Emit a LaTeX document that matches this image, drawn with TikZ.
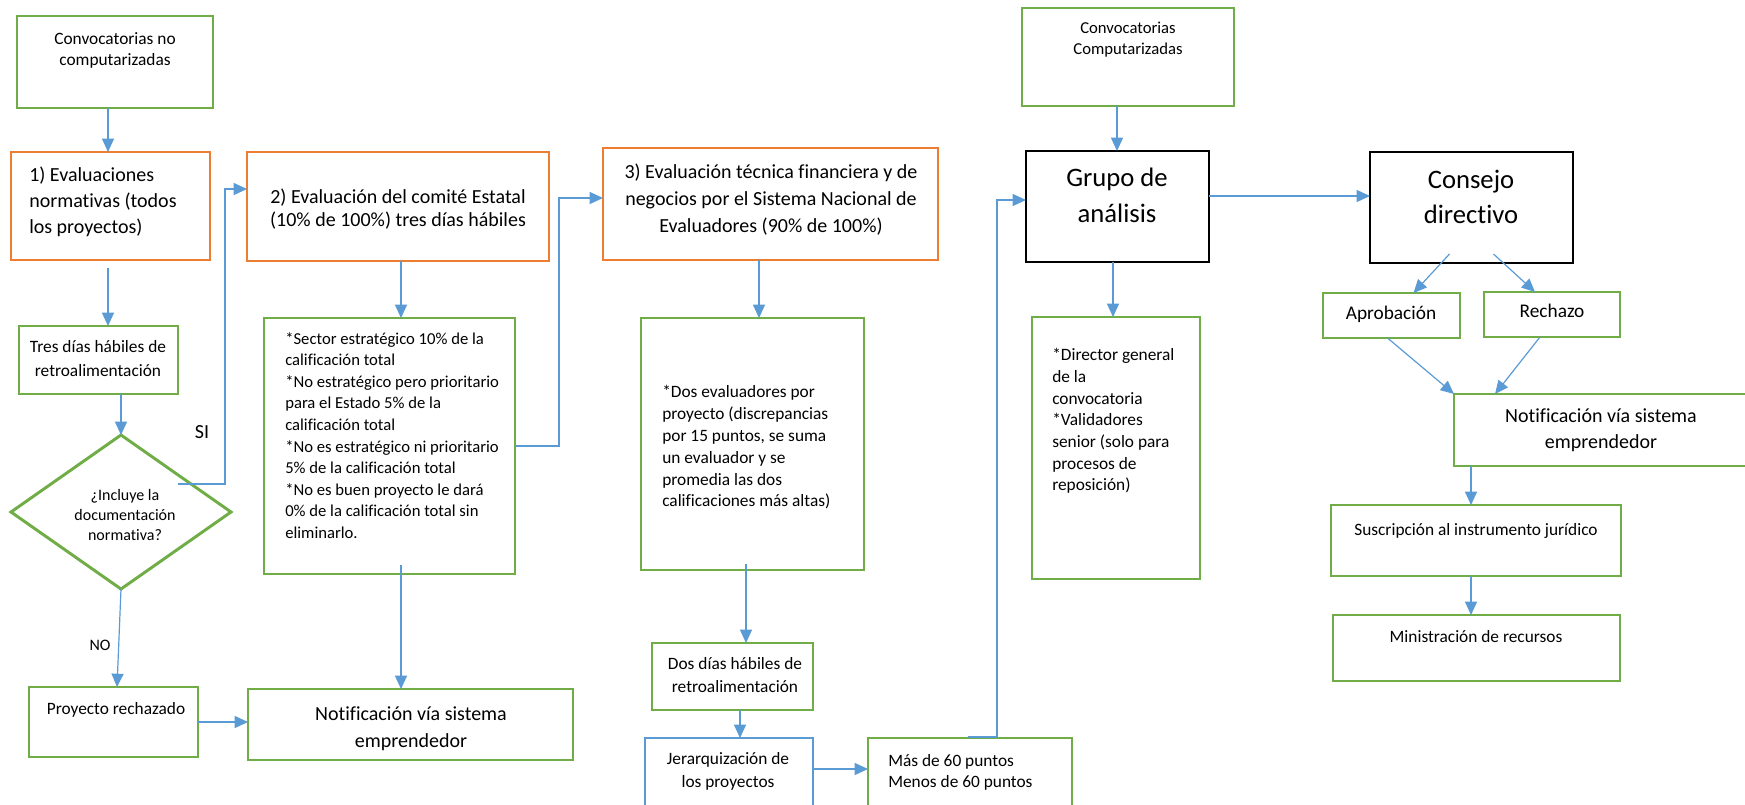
\documentclass[tikz,border=0pt]{standalone}
\usepackage{fontspec}
\setmainfont{Carlito}[Ligatures=CommonOff]
\usetikzlibrary{arrows.meta,calc,shapes.geometric}
\definecolor{gr}{HTML}{70AD47}
\definecolor{og}{HTML}{ED7D31}
\definecolor{bl}{HTML}{5B9BD5}
\newcommand\mkbox[6]{\node[#2,anchor=north west,minimum width={((#5)-(#3))*0.75pt},minimum height={((#6)-(#4))*0.75pt}] (#1) at (#3,#4) {};}
\begin{document}
\begin{tikzpicture}[x=0.75pt,y=-0.75pt,
  bx/.style={line width=2.2pt,inner sep=0pt,outer sep=0pt},
  gbox/.style={bx,draw=gr},
  obox/.style={bx,draw=og},
  kbox/.style={bx,draw=black},
  bbox/.style={bx,draw=bl},
  conn/.style={draw=bl,line width=0.9pt},
  arr/.style={conn,-{Triangle[length=10pt,width=9pt]}},
  txt/.style 2 args={font=\fontsize{#1}{#2}\selectfont,inner sep=0pt,text=black},
]
\useasboundingbox (0,0) rectangle (1745,804);
% boxes
\mkbox{convno}{gbox}{17}{16}{213}{108}
\mkbox{box1}{obox}{11}{152}{210}{260}
\mkbox{tres}{gbox}{19}{326}{178}{394}
\node[draw=gr,line width=2.2pt,diamond,minimum width=165pt,minimum height=115.5pt,inner sep=0pt,outer sep=0pt] (dia) at (121,512) {};
\mkbox{proj}{gbox}{29}{687}{198}{757}
\mkbox{notif1}{gbox}{248}{689}{573}{760}
\mkbox{box2}{obox}{247}{152}{549}{261}
\mkbox{sector}{gbox}{264}{318}{515}{574}
\mkbox{box3}{obox}{603}{148}{938}{260}
\mkbox{dos}{gbox}{641}{318}{864}{570}
\mkbox{dosdias}{gbox}{652}{643}{813}{710}
\mkbox{jer}{bbox}{645}{738}{813}{808}
\mkbox{mas}{gbox}{868}{738}{1072}{808}
\mkbox{convcomp}{gbox}{1022}{8}{1234}{106}
\mkbox{grupo}{kbox}{1026}{151}{1209}{262}
\mkbox{director}{gbox}{1032}{317}{1200}{579}
\mkbox{consejo}{kbox}{1370}{152}{1573}{263}
\mkbox{aprob}{gbox}{1323}{293}{1460}{338}
\mkbox{rech}{gbox}{1484}{292}{1620}{337}
\mkbox{notif2}{gbox}{1454}{394}{1760}{466}
\mkbox{susc}{gbox}{1331}{505}{1621}{576}
\mkbox{min}{gbox}{1333}{615}{1620}{681}
% texts
\node[txt={13}{15.75},anchor=north,align=center] (convno-t) at (115,32) {Convocatorias no\\computarizadas};
\node[txt={15}{19.5},anchor=north west,align=left] (box1-t) at (29,167) {1) Evaluaciones\\normativas (todos\\los proyectos)};
\node[txt={13}{18},anchor=north,align=center] (tres-t) at (98,340) {Tres días hábiles de\\retroalimentación};
\node[txt={12}{15},anchor=north,align=center] (dia-t) at (125,489) {¿Incluye la\\documentación\\normativa?};
\node[txt={13}{16},anchor=north,align=center] (proj-t) at (116,702) {Proyecto rechazado};
\node[txt={15}{20.5},anchor=north,align=center] (notif1-t) at (411,706) {Notificación vía sistema\\emprendedor};
\node[txt={15}{17.25},anchor=north,align=center] (box2-t) at (398,189) {2) Evaluación del comité Estatal\\(10\% de 100\%) tres días hábiles};
\node[txt={12.5}{16.2},anchor=north west,align=left] (sector-t) at (285,332) {*Sector estratégico 10\% de la\\calificación total\\*No estratégico pero prioritario\\para el Estado 5\% de la\\calificación total\\*No es estratégico ni prioritario\\5\% de la calificación total\\*No es buen proyecto le dará\\0\% de la calificación total sin\\eliminarlo.};
\node[txt={15}{20},anchor=north,align=center] (box3-t) at (771,164) {3) Evaluación técnica financiera y de\\negocios por el Sistema Nacional de\\Evaluadores (90\% de 100\%)};
\node[txt={13}{16.4},anchor=north west,align=left] (dos-t) at (662,385) {*Dos evaluadores por\\proyecto (discrepancias\\por 15 puntos, se suma\\un evaluador y se\\promedia las dos\\calificaciones más altas)};
\node[txt={13}{17.5},anchor=north,align=center] (dosdias-t) at (735,657) {Dos días hábiles de\\retroalimentación};
\node[txt={13}{17.5},anchor=north,align=center] (jer-t) at (728,752) {Jerarquización de\\los proyectos};
\node[txt={13}{15.75},anchor=north west,align=left] (mas-t) at (888,754) {Más de 60 puntos\\Menos de 60 puntos};
\node[txt={12.5}{15.75},anchor=north,align=center] (convcomp-t) at (1128,22) {Convocatorias\\Computarizadas};
\node[txt={20}{26.5},anchor=north,align=center] (grupo-t) at (1117,168) {Grupo de\\análisis};
\node[txt={13}{16.3},anchor=north west,align=left] (director-t) at (1052,348) {*Director general\\de la\\convocatoria\\*Validadores\\senior (solo para\\procesos de\\reposición)};
\node[txt={20}{26.5},anchor=north,align=center] (consejo-t) at (1471,170) {Consejo\\directivo};
\node[txt={14.5}{18},anchor=north,align=center] (aprob-t) at (1391,306) {Aprobación};
\node[txt={14.5}{18},anchor=north,align=center] (rech-t) at (1552,304) {Rechazo};
\node[txt={15}{19.5},anchor=north,align=center] (notif2-t) at (1601,408) {Notificación vía sistema\\emprendedor};
\node[txt={13}{16},anchor=north,align=center] (susc-t) at (1476,523) {Suscripción al instrumento jurídico};
\node[txt={13}{16},anchor=north,align=center] (min-t) at (1476,630) {Ministración de recursos};
\node[txt={15}{18}] (si-l) at (202,432) {SI};
\node[txt={12}{14}] (no-l) at (100,645) {NO};
% connectors
\draw[arr] (convno.south -| 108,0) -- (box1.north -| 108,0);
\draw[arr] ($(box1.south -| 108,0)+(0,8)$) -- (tres.north -| 108,0);
\draw[arr] (dia.north |- tres.south) -- (dia.north);
\coordinate (si) at (225,189);
\draw[arr] ($(dia.center)+(57,-28)$) -| (si) -- (si -| box2.west);
\draw[arr] (dia.south) -- (proj.north -| 117,0);
\draw[arr] (proj.east) -- (proj.east -| notif1.west);
\draw[arr] (box2.south -| 401,0) -- (sector.north -| 401,0);
\draw[arr] ($(sector.south -| 401,0)+(0,-9)$) -- (notif1.north -| 401,0);
\coordinate (c3) at (559,198);
\draw[arr] (sector.east) -| (c3) -- (c3 -| box3.west);
\draw[arr] (box3.south -| 759,0) -- (dos.north -| 759,0);
\draw[arr] ($(dos.south -| 746,0)+(0,-6)$) -- (dosdias.north -| 746,0);
\draw[arr] (dosdias.south -| 740,0) -- (jer.north -| 740,0);
\draw[arr] (jer.east |- 0,769) -- (mas.west |- 0,769);
\coordinate (c4) at (997,200);
\draw[arr] ($(mas.north west)+(100,-1)$) -| (c4) -- (c4 -| grupo.west);
\draw[arr] (convcomp.south -| 1117,0) -- (grupo.north -| 1117,0);
\draw[arr] (grupo.east |- 0,196) -- (consejo.west |- 0,196);
\draw[arr] (grupo.south -| 1113,0) -- (director.north -| 1113,0);
\draw[arr] ($(consejo.south)+(-22,-9)$) -- ($(aprob.north)+(22,0)$);
\draw[arr] ($(consejo.south)+(22,-9)$) -- ($(rech.north)+(-17,0)$);
\draw[arr] ($(aprob.south)+(-4,0)$) -- (notif2.north west);
\draw[arr] ($(rech.south)+(-12,0)$) -- ($(notif2.north west)+(41,0)$);
\draw[arr] (notif2.south -| 1471,0) -- (susc.north -| 1471,0);
\draw[arr] (susc.south -| 1471,0) -- (min.north -| 1471,0);
\end{tikzpicture}
\end{document}
